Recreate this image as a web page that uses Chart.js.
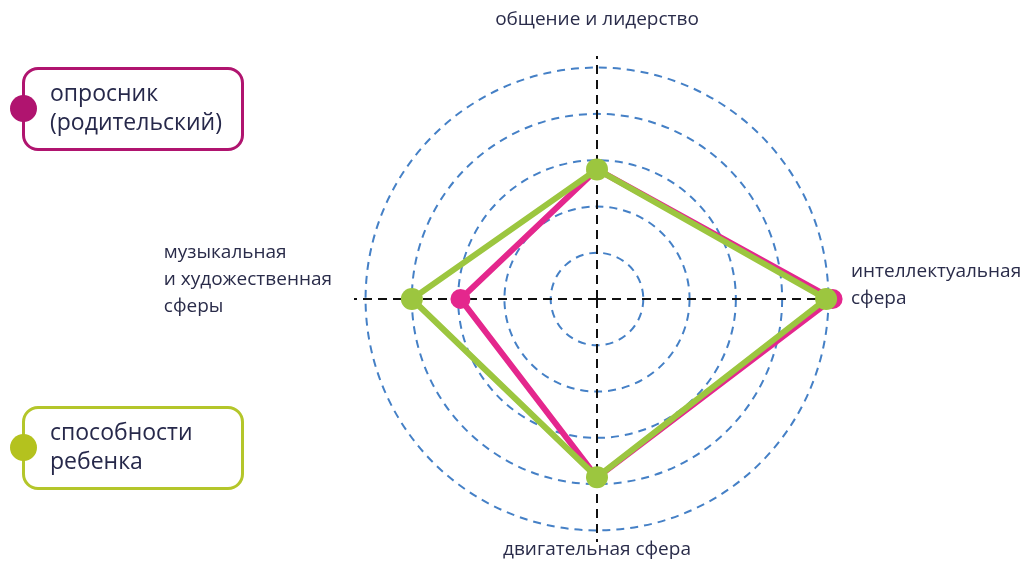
<!DOCTYPE html>
<html>
<head>
<meta charset="utf-8">
<script src="https://cdn.jsdelivr.net/npm/chart.js@4"></script>
<style>
  body { margin: 0; background: #fff; font-family: "Open Sans", sans-serif; }
  #wrap { position: relative; width: 1026px; height: 563px; }
  .key {
    position: absolute; left: 22px; width: 216px; height: 78px;
    border: 3px solid; border-radius: 16px; box-sizing: content-box;
    color: #26284a; font-size: 23px; line-height: 29px;
  }
  .key span { position: absolute; left: 25px; top: 8px; }
  .key i {
    position: absolute; left: -15px; top: 25px; width: 27px; height: 27px;
    border-radius: 50%;
  }
</style>
</head>
<body>
<div id="wrap">
  <canvas id="radar" width="1026" height="563"></canvas>
  <div class="key" style="top:67px;border-color:#b0146f"><i style="background:#b0146f"></i><span>опросник<br>(родительский)</span></div>
  <div class="key" style="top:406px;border-color:#b4c62a"><i style="background:#b4c21e"></i><span>способности<br>ребенка</span></div>
</div>
<script>
// axes, clockwise from top
var axisLabels = [
  ['общение и лидерство'],
  ['интеллектуальная', 'сфера'],
  ['двигательная сфера'],
  ['музыкальная', 'и художественная', 'сферы']
];
var parentValues = [2.8, 5.09, 3.86, 2.95];
var childValues = [2.8, 4.95, 3.85, 4.0];
var seriesNames = ['способности ребенка', 'опросник (родительский)'];

// where each label block sits: distance from centre (px), alignment, nudge up
var labelPlace = [
  { dist: 279, align: 'center', up: 0 },
  { dist: 254, align: 'left', up: 14 },
  { dist: 251, align: 'center', up: 0 },
  { dist: 265, align: 'rightblock', up: 19 }
];

const axisText = {
  id: 'axisText',
  afterDraw(chart) {
    const scale = chart.scales.r;
    const ctx = chart.ctx;
    ctx.save();
    ctx.font = '19px "Open Sans"';
    ctx.fillStyle = '#2a2c4a';
    ctx.textBaseline = 'middle';
    var lh = 27;
    axisLabels.forEach(function (lines, i) {
      var p = scale.getPointPosition(i, labelPlace[i].dist);
      var y0 = p.y - (lines.length - 1) * lh / 2 - labelPlace[i].up;
      var w = Math.max.apply(null, lines.map(function (l) { return ctx.measureText(l).width; }));
      lines.forEach(function (l, k) {
        var y = y0 + k * lh;
        if (labelPlace[i].align == 'center') {
          ctx.textAlign = 'center';
          ctx.fillText(l, p.x, y);
        } else if (labelPlace[i].align == 'left') {
          ctx.textAlign = 'left';
          ctx.fillText(l, p.x, y);
        } else {
          ctx.textAlign = 'left';
          ctx.fillText(l, p.x - w, y);
        }
      });
    });
    ctx.restore();
  }
};

const data = {
  labels: axisLabels.map(function (l) { return l.join(' '); }),
  datasets: [{
    label: seriesNames[0],
    data: childValues,
    borderColor: '#9cc63f',
    backgroundColor: 'rgba(0,0,0,0)',
    pointBackgroundColor: '#9cc63f',
    pointBorderColor: '#9cc63f',
    borderWidth: 6,
    pointRadius: 11,
    pointBorderWidth: 0
  }, {
    label: seriesNames[1],
    data: parentValues,
    borderColor: '#e4278d',
    backgroundColor: 'rgba(0,0,0,0)',
    pointBackgroundColor: '#e4278d',
    pointBorderColor: '#e4278d',
    borderWidth: 6,
    pointRadius: 10,
    pointBorderWidth: 0
  }]
};

const config = {
  type: 'radar',
  data: data,
  options: {
    responsive: false,
    animation: false,
    layout: { padding: { left: 354, right: 185, top: 56, bottom: 20 } },
    plugins: { legend: { display: false }, tooltip: { enabled: false } },
    elements: { line: { tension: 0 } },
    scales: {
      r: {
        min: 0,
        max: 5.25,
        ticks: { display: false, stepSize: 1 },
        pointLabels: { display: false },
        grid: {
          circular: true,
          lineWidth: 2,
          color: function (ctx) {
            return ctx.tick && ctx.tick.value > 5 ? 'rgba(0,0,0,0)' : '#4580c6';
          }
        },
        border: { dash: [8, 6] },
        angleLines: { color: '#111', lineWidth: 2, borderDash: [9, 6] }
      }
    }
  },
  plugins: [axisText]
};

const myChart = new Chart(document.getElementById('radar'), config);
</script>
</body>
</html>
